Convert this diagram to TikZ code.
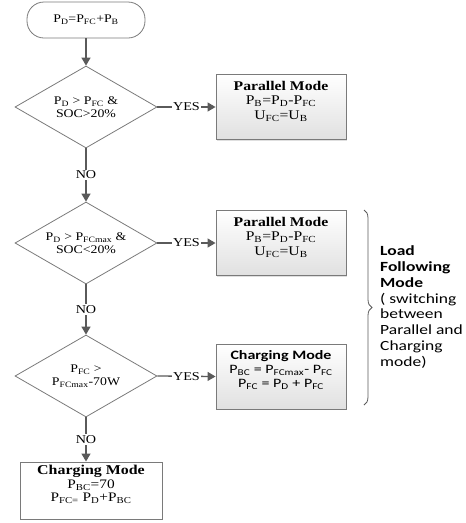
\documentclass[tikz,border=0pt]{standalone}
\usepackage{fontspec}
\setmainfont{Liberation Serif}
\setsansfont{Carlito}
\newfontfamily\wideserif[FakeStretch=1.18]{Liberation Serif}
\newfontfamily\widesans[FakeStretch=1.25]{Carlito}
\usetikzlibrary{shapes.geometric,arrows.meta,decorations.pathreplacing,shadows}
\newcommand{\sbs}[1]{\textsubscript{#1}}
\definecolor{zline}{HTML}{5A5A5A}
\definecolor{zedge}{HTML}{7A7A7A}
\tikzset{zflow/.style={
  draw=zline,
  line width=1.3pt,
  -{Triangle[length=8pt,width=9pt]}}}
\tikzset{zlabel/.style={
  fill=white,
  inner sep=1pt,
  font=\wideserif\fontsize{12}{13}\selectfont}}
\tikzset{zcheck/.style={
  draw=zedge,
  diamond,
  aspect=1.73,
  minimum width=142pt,
  minimum height=82pt,
  inner sep=0pt,
  line width=.8pt,
  align=center,
  font=\wideserif\fontsize{11.7}{13}\selectfont}}
\tikzset{zmode/.style={
  draw=zedge,
  rectangle,
  line width=.9pt,
  top color=white,
  bottom color=black!12,
  drop shadow={shadow xshift=1pt,shadow yshift=-1pt,opacity=.25},
  minimum width=130pt,
  minimum height=65pt,
  align=center,
  text depth=14pt,
  font=\wideserif\fontsize{13.3}{14.5}\selectfont}}

\begin{document}
\begin{tikzpicture}[x=1pt,y=-1pt]
  \useasboundingbox (0,0) rectangle (466,523);

  %%%% Start and the three checks %%%%
  \node[draw=zedge,line width=.8pt,rounded corners=17pt,minimum width=118pt,
    minimum height=36pt,font=\wideserif\fontsize{11.7}{13}\selectfont] (start) at (86,20)
    {P\sbs{D}=P\sbs{FC}+P\sbs{B}};
  \node[zcheck] (chk1) at (86,107) {P\sbs{D} > P\sbs{FC} \&\\SOC>20\%};
  \node[zcheck] (chk2) at (86,243) {P\sbs{D} > P\sbs{FCmax} \&\\SOC<20\%};
  \node[zcheck] (chk3) at (86,376) {P\sbs{FC} >\\P\sbs{FCmax}-70W};

  %%%% Mode boxes %%%%
  \node[zmode] (par1) at (281,107)
    {\textbf{Parallel Mode}\\P\sbs{B}=P\sbs{D}-P\sbs{FC}\\U\sbs{FC}=U\sbs{B}};
  \node[zmode] (par2) at (281,243)
    {\textbf{Parallel Mode}\\P\sbs{B}=P\sbs{D}-P\sbs{FC}\\U\sbs{FC}=U\sbs{B}};
  \node[zmode,font=\widesans\fontsize{12.8}{14}\selectfont] (chg1) at (281,376.5)
    {\textbf{Charging Mode}\\P\sbs{BC} = P\sbs{FCmax}- P\sbs{FC}\\P\sbs{FC} = P\sbs{D} + P\sbs{FC}};
  \node[draw=zedge,line width=.9pt,fill=white,minimum width=142pt,minimum height=57pt,
    align=center,text depth=14pt,font=\wideserif\fontsize{13}{13.5}\selectfont] (chg2) at (91,490.5)
    {{\fontsize{13.5}{14}\selectfont\textbf{Charging Mode}}\\P\sbs{BC}=70\\P\sbs{FC=} P\sbs{D}+P\sbs{BC}};

  %% Connectors
  \draw[zflow] (start) -- (chk1);
  \draw[zflow] (chk1) -- node[zlabel] {NO} (chk2);
  \draw[zflow] (chk2) -- node[zlabel] {NO} (chk3);
  \draw[zflow] (chk3.south) -- node[zlabel] {NO} (chk3.south |- chg2.north);
  \draw[zflow] (chk1.east) -- node[zlabel] {YES} (par1.west);
  \draw[zflow] (chk2.east) -- node[zlabel] {YES} (par2.west);
  \draw[zflow] (chk3.east) -- node[zlabel] {YES} (chg1.west);

  %% Brace and note
  \coordinate (bracetop) at (364,210);
  \coordinate (bracebot) at (364,405);
  \draw[zline,line width=.8pt,decorate,decoration={brace,amplitude=8pt}] (bracetop) -- (bracebot);
  \node[anchor=west,align=left,inner sep=0pt,font=\widesans\fontsize{14}{15.8}\selectfont] (note) at (380,307)
    {\textbf{Load}\\\textbf{Following}\\\textbf{Mode}\\( switching\\between\\Parallel and\\Charging\\mode)};
\end{tikzpicture}
\end{document}
